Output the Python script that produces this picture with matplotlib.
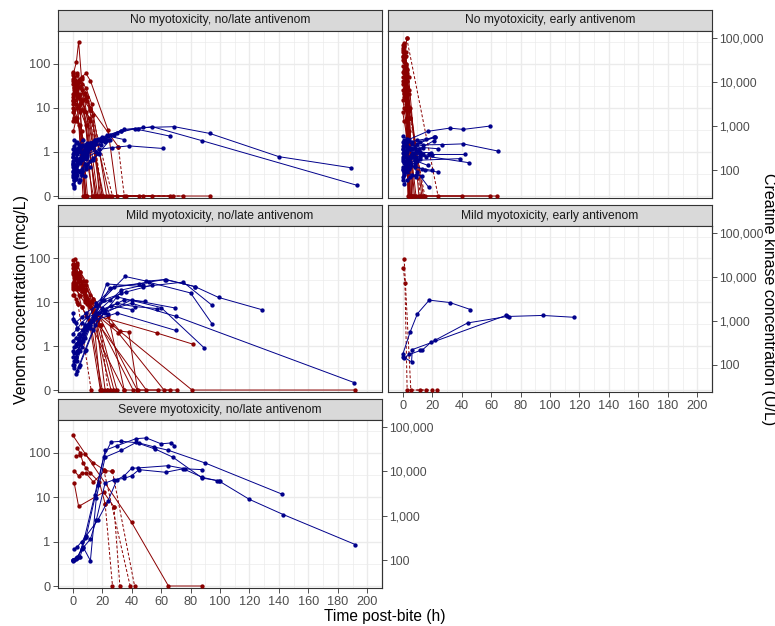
"""Venom and creatine kinase concentration over time, one panel per severity group"""

import matplotlib
matplotlib.use("Agg")
import matplotlib.pyplot as plt
from matplotlib.ticker import FixedLocator, NullFormatter

plt.rcParams['font.family'] = ['Liberation Sans', 'DejaVu Sans']

# CK (U/L) is drawn on the venom axis divided by this factor
CK_FACTOR = 263.0
# zero venom values sit at the bottom of the log axis
ZERO = 0.1

panel_titles = [
    "No myotoxicity, no/late antivenom",
    "No myotoxicity, early antivenom",
    "Mild myotoxicity, no/late antivenom",
    "Mild myotoxicity, early antivenom",
    "Severe myotoxicity, no/late antivenom",
]

x_ticks = [0, 20, 40, 60, 80, 100, 120, 140, 160, 180, 200]
venom_ticks = [ZERO, 1, 10, 100]
venom_labels = ["0", "1", "10", "100"]
ck_ticks = [100, 1000, 10000, 100000]
ck_labels = ["100", "1,000", "10,000", "100,000"]

# venom series: (hours, mcg/L, line style) - "tail" means the last drop is dashed
venom_none_late = [
    ([0.5, 2.5, 4, 6, 13], [60, 110, 316, 45, 0], "solid"),
    ([0, 3, 6, 9, 12, 24, 30], [66, 40, 50, 60, 41, 3.1, 0], "solid"),
    ([0, 1, 3, 5, 8], [45, 30, 20, 12, 0], "solid"),
    ([1, 2, 4, 7, 16], [25, 35, 18, 9, 0], "solid"),
    ([0, 2, 5, 10], [12, 20, 8, 0], "solid"),
    ([0.5, 3, 6, 11, 19], [35, 28, 15, 6, 0], "solid"),
    ([1, 4, 8, 14, 23], [50, 38, 22, 7, 0], "solid"),
    ([0, 1.5, 3, 9], [8, 15, 10, 0], "solid"),
    ([0, 2, 6, 12, 20, 36, 53.7], [20, 24, 14, 5, 0, 0, 0], "solid"),
    ([1, 3, 5, 8, 17], [40, 55, 30, 16, 0], "solid"),
    ([0, 4, 7, 10, 15], [15, 11, 9, 4, 0], "solid"),
    ([2, 5, 9, 13, 18, 45, 66], [30, 45, 28, 12, 0, 0, 0], "solid"),
    ([0, 1, 3, 6, 14], [5, 9, 6, 3, 0], "solid"),
    ([0.5, 2, 5, 9, 21, 48], [18, 22, 16, 8, 0, 0], "solid"),
    ([1, 3, 6, 10, 25, 68], [28, 32, 25, 14, 0, 0], "solid"),
    ([0, 2, 4, 6, 9], [10, 6, 4, 2, 0], "solid"),
    ([1, 4, 8, 12, 31, 35, 75], [22, 30, 20, 10, 1.3, 0, 0], "tail"),
    ([0, 3, 6, 10, 27], [55, 60, 35, 18, 0], "tail"),
    ([0.5, 2, 5, 8, 93], [3, 5, 4, 0, 0], "solid"),
    ([0, 2, 3, 7], [14, 25, 18, 0], "solid"),
    ([1, 2, 5, 9, 16], [6, 12, 9, 4, 0], "solid"),
    ([0, 3, 5, 12, 20], [40, 25, 20, 9, 0], "tail"),
]

venom_none_early = [
    ([1, 2.7, 24], [60, 380, 0], "tail"),
    ([0, 1, 2, 3, 5], [200, 250, 90, 30, 0], "solid"),
    ([0.5, 1.5, 2.5, 4], [150, 80, 40, 0], "solid"),
    ([0, 1, 2, 3.5], [90, 60, 25, 0], "solid"),
    ([1, 2, 3, 4, 6], [300, 180, 70, 20, 0], "solid"),
    ([0, 1.5, 3, 5], [40, 30, 12, 0], "solid"),
    ([0.5, 2, 3, 4.5], [120, 100, 55, 0], "solid"),
    ([0, 1, 2.5, 4, 8], [25, 18, 9, 3, 0], "solid"),
    ([1, 2, 3, 5, 15], [70, 45, 20, 6, 0], "tail"),
    ([0, 1, 2, 4], [15, 10, 5, 0], "solid"),
    ([0.5, 1.5, 3, 6, 40], [180, 140, 60, 0, 0], "solid"),
    ([0, 2, 3, 5, 59], [50, 35, 15, 0, 0], "solid"),
    ([1, 2, 4, 7, 64], [110, 60, 25, 0, 0], "solid"),
    ([0, 1, 3, 5], [8, 5, 2, 0], "solid"),
    ([0.5, 2, 3, 12], [260, 150, 40, 0], "tail"),
    ([0, 1, 2, 3, 9], [35, 22, 15, 6, 0], "solid"),
    ([1, 2, 3, 4], [20, 12, 6, 0], "solid"),
    ([0, 1, 2, 3, 4, 11], [140, 120, 100, 75, 50, 0], "solid"),
    ([0.5, 1.5, 2.5, 5, 13], [65, 55, 30, 10, 0], "solid"),
    ([0, 1, 2, 3, 14], [230, 160, 80, 30, 0], "solid"),
]

venom_mild_late = [
    ([1.4, 3, 5, 9, 14, 22], [98, 80, 50, 30, 12, 0], "solid"),
    ([0, 2, 4, 7, 12, 26], [60, 70, 45, 25, 8, 0], "solid"),
    ([0, 1, 3, 6, 10, 20], [45, 50, 40, 20, 9, 0], "solid"),
    ([1, 2, 5, 8, 13, 19], [30, 35, 25, 18, 10, 0], "solid"),
    ([0, 2, 4, 8, 15, 28], [22, 25, 20, 12, 5, 0], "solid"),
    ([1, 3, 5, 9, 14, 24, 35], [40, 45, 30, 20, 12, 5, 0], "solid"),
    ([0, 2, 4, 7, 12, 32, 38, 44], [70, 65, 40, 30, 15, 2.2, 2.1, 0], "solid"),
    ([0, 1, 3, 6, 10, 16, 57, 82], [20, 25, 22, 18, 10, 5, 2, 1.1], "solid"),
    ([1, 3, 5, 8, 12, 18, 50], [55, 45, 35, 20, 10, 3, 0], "solid"),
    ([0, 1, 3.6, 12.5], [25, 15, 9, 0], "tail"),
    ([0, 2, 5, 10, 19, 23.8], [50, 40, 22, 12, 3, 0], "tail"),
    ([1, 2, 4, 6, 11, 18.8], [35, 28, 15, 8, 4, 0], "solid"),
    ([0, 3, 5, 9, 13, 43.8, 58], [90, 70, 50, 25, 10, 0, 0], "solid"),
    ([1, 2, 4, 8, 14, 31, 62, 66], [65, 50, 30, 15, 6, 2, 0, 0], "solid"),
    ([0, 2, 3, 6, 9, 34.7, 70.8], [15, 12, 10, 8, 5, 0, 0], "solid"),
    ([0, 1, 4, 7, 12, 27, 81, 192], [75, 60, 40, 20, 8, 3, 0, 0], "solid"),
    ([2, 4, 7, 10, 17, 30], [45, 35, 25, 12, 4, 0], "solid"),
    ([0, 2, 5, 8, 14, 41], [28, 20, 14, 10, 6, 0], "solid"),
]

venom_mild_early = [
    ([1, 5.5, 12, 16], [98, 0, 0, 0], "dashed"),
    ([0.5, 1.5, 3, 20, 23], [60, 27, 0, 0, 0], "dashed"),
]

venom_severe_late = [
    ([0, 40, 65, 88], [250, 2.7, 0, 0], "solid"),
    ([2, 5, 8, 14, 21, 39], [85, 90, 95, 60, 42, 0], "tail"),
    ([1, 4, 6, 9, 14, 22, 27, 42], [40, 30, 35, 35, 22, 40, 38, 0], "tail"),
    ([1, 4, 21, 28, 32], [21, 6.2, 13, 6.1, 0], "tail"),
    ([3, 5, 7, 9, 12, 18, 22, 27], [130, 100, 60, 45, 35, 22, 7.2, 0], "tail"),
]

# creatine kinase series: (hours, U/L)
ck_none_late = [
    ([0, 2, 5, 10, 16], [120, 90, 150, 200, 260]),
    ([0, 1, 4, 8, 13, 22], [200, 250, 180, 300, 400, 520]),
    ([1, 3, 6, 12, 18, 28], [60, 80, 110, 160, 250, 650]),
    ([0, 2, 4, 7], [300, 420, 380, 500]),
    ([0, 3, 7, 11, 20, 33], [90, 150, 250, 330, 540, 800]),
    ([1, 2, 5, 9], [45, 70, 60, 110]),
    ([0, 2, 6, 10, 14, 24], [160, 130, 200, 260, 330, 480]),
    ([0, 1, 3, 5, 8, 12], [80, 60, 100, 90, 140, 120]),
    ([2, 4, 8, 15, 22], [250, 300, 350, 420, 430]),
    ([0, 1, 2, 4, 6], [50, 40, 65, 55, 90]),
    ([1, 3, 5, 7, 12, 19], [350, 280, 300, 260, 350, 380]),
    ([0, 2, 3, 6, 9], [140, 170, 230, 200, 180]),
    ([0, 4, 9, 14], [70, 95, 120, 170]),
    ([1, 3, 6, 10, 15, 20], [500, 450, 380, 420, 480, 560]),
    ([0, 2, 5, 8, 11], [230, 190, 160, 210, 300]),
    ([0, 1, 3, 6, 10, 14, 18], [95, 110, 130, 170, 140, 190, 230]),
    ([2, 5, 9, 13, 19, 25], [180, 260, 300, 380, 470, 480]),
    ([0, 3, 6, 8], [130, 100, 80, 75]),
    ([1, 2, 4, 8, 12, 17, 23], [260, 300, 340, 300, 390, 520, 620]),
    ([2, 8, 15, 25, 35, 48, 69, 93, 140, 189], [120, 250, 400, 650, 850, 940, 980, 690, 205, 115]),
    ([1, 6, 14, 22, 33, 44, 54, 88, 193], [90, 180, 330, 500, 800, 880, 980, 470, 46]),
    ([0, 4, 10, 18, 27, 38, 61], [150, 180, 240, 300, 330, 360, 315]),
    ([1, 5, 12, 20, 30, 42, 66], [300, 350, 420, 500, 700, 880, 600]),
    ([0, 3, 8, 15, 24, 35], [200, 260, 350, 480, 600, 500]),
]

ck_none_early = [
    ([1, 4, 17, 32, 41, 59], [400, 500, 770, 910, 850, 1010]),
    ([0, 3, 8, 14, 27, 41, 64.6], [300, 350, 330, 380, 385, 400, 275]),
    ([0, 2, 5, 12, 21], [200, 250, 300, 450, 570]),
    ([1, 3, 6, 10, 22], [150, 180, 240, 400, 570]),
    ([0, 2, 4, 9, 18, 42], [100, 130, 160, 200, 230, 230]),
    ([0, 3, 7, 12, 44.8], [350, 300, 250, 220, 150]),
    ([1, 2, 5, 10, 38.8], [80, 120, 150, 170, 185]),
    ([0, 1, 4, 8, 15, 24], [60, 90, 110, 130, 100, 92]),
    ([0, 2, 5, 10, 17.5], [250, 200, 150, 90, 42]),
    ([1, 3, 6, 11, 16], [500, 450, 400, 300, 200]),
    ([0, 2, 4, 8, 13, 20], [180, 160, 140, 120, 110, 100]),
    ([0, 1, 3, 6, 9], [120, 100, 90, 80, 70]),
    ([1, 2, 4, 7, 12, 19], [90, 110, 150, 200, 260, 250]),
    ([0, 2, 5, 9, 14], [450, 380, 320, 280, 230]),
    ([0, 1, 3, 5, 8, 12], [70, 85, 100, 120, 150, 180]),
    ([1, 3, 6, 14, 24], [220, 260, 300, 330, 310]),
    ([0, 2, 4, 7, 11], [160, 140, 180, 210, 260]),
    ([0, 1, 2, 5, 10, 17], [300, 280, 250, 200, 160, 130]),
    ([2, 4, 8, 12, 20], [130, 150, 170, 200, 220]),
    ([0, 3, 6, 10, 16, 22], [600, 520, 450, 480, 520, 560]),
    ([1, 3, 5, 9, 13], [50, 60, 70, 80, 75]),
    ([0, 2, 6, 11, 21], [110, 140, 210, 300, 470]),
]

ck_mild_late = [
    ([0, 2, 5, 10, 20, 35.6, 50, 63.5, 83, 99, 128.6], [100, 150, 300, 800, 3000, 10200, 8000, 8700, 6000, 3400, 1780]),
    ([1, 3, 6, 12, 23, 48, 75, 94.6], [85, 120, 250, 700, 6900, 6000, 7600, 2250]),
    ([0, 3, 7, 14, 25, 52, 80, 94.6], [150, 200, 400, 1200, 5600, 7500, 4300, 850]),
    ([2, 4, 8, 15, 30, 60, 89.3], [60, 90, 200, 800, 3500, 2000, 240]),
    ([1, 3, 6, 10, 18, 40, 70, 191], [120, 180, 330, 700, 1500, 2500, 1260, 39]),
    ([0, 2, 4, 8, 16, 28, 45, 62.6, 82.9], [200, 260, 400, 800, 2500, 6000, 7000, 8700, 6000]),
    ([3, 5, 9, 14, 22, 35, 49], [70, 100, 220, 600, 1800, 3000, 2750]),
    ([0, 1, 3, 7, 12, 22, 40, 69.6], [1500, 1000, 700, 600, 800, 1500, 3000, 1950]),
    ([2, 4, 7, 11, 20, 33, 48], [300, 350, 500, 900, 2000, 5000, 6500]),
    ([1, 3, 5, 9, 15, 26, 40], [250, 300, 450, 650, 1200, 2200, 1800]),
    ([0, 2, 4, 8, 14, 30, 70], [350, 400, 500, 700, 1000, 1500, 600]),
    ([0, 3, 6, 10, 17, 24], [500, 650, 900, 1200, 1500, 1400]),
    ([1, 2, 5, 8, 13, 21, 36, 54], [100, 140, 200, 400, 1000, 3000, 4500, 6500]),
    ([0, 2, 6, 9, 16, 25, 33], [1100, 900, 1200, 1500, 2200, 3000, 4200]),
    ([1, 4, 7, 12, 20, 30, 42, 57], [180, 220, 350, 800, 1800, 2500, 2100, 1900]),
]

ck_mild_early = [
    ([0, 5, 10, 18, 32, 46], [170, 550, 1450, 2950, 2600, 1800]),
    ([1, 4.5, 12, 13, 19.5, 22, 44, 71, 95, 116], [140, 170, 210, 210, 330, 360, 890, 1250, 1320, 1200]),
    ([0.5, 6, 6.5, 70, 72], [150, 115, 220, 1320, 1200]),
]

ck_severe_late = [
    ([0, 2, 4, 8, 15, 21, 26, 33, 45, 55, 65, 90, 142], [100, 105, 120, 320, 3000, 21000, 46000, 48000, 44000, 36000, 30000, 15500, 3100]),
    ([0, 1, 3, 6, 9, 17, 22, 30, 43, 50, 60, 67, 69], [95, 100, 110, 180, 330, 5000, 30000, 38000, 55000, 57000, 42000, 44000, 38000]),
    ([0, 2, 5, 7, 12, 16, 22, 33, 43, 56, 68, 88, 99, 120, 143, 192], [100, 110, 120, 200, 98, 2500, 21000, 30000, 45000, 32000, 21000, 7100, 6200, 2350, 1070, 225]),
    ([1, 3, 6, 9, 17, 24, 30, 35, 40, 44, 65, 76, 88], [180, 200, 260, 350, 800, 2200, 6500, 8000, 11800, 12000, 13500, 11500, 11000]),
    ([0, 3, 7, 12, 16, 22, 28, 35, 40, 45, 63, 75, 88, 98, 100], [100, 120, 190, 300, 800, 5500, 6500, 7000, 8000, 11000, 9600, 11500, 7400, 6200, 6000]),
]

venom_data = [venom_none_late, venom_none_early, venom_mild_late, venom_mild_early, venom_severe_late]
ck_data = [ck_none_late, ck_none_early, ck_mild_late, ck_mild_early, ck_severe_late]

RED = "#8B0000"
BLUE = "#00008B"
TICK_GREY = "#4D4D4D"
FRAME = "#333333"
LW = 0.7
MS = 2.1

W, H = 775, 626
fig = plt.figure(figsize=(W / 100, H / 100), dpi=100)

# panel boxes in pixels: (left, right) and (strip top, plot top, plot bottom)
cols = [(58, 382), (388, 712)]
rows = [(10, 31, 198), (205, 226, 392), (399, 420, 588)]
slots = [(0, 0), (0, 1), (1, 0), (1, 1), (2, 0)]


def px_axes(x0, x1, y0, y1):
    return fig.add_axes([x0 / W, 1 - y1 / H, (x1 - x0) / W, (y1 - y0) / H])


def nz(vals):
    return [v if v > 0 else ZERO for v in vals]


for i, (r, c) in enumerate(slots):
    x0, x1 = cols[c]
    ys, yp, yb = rows[r]

    strip = px_axes(x0, x1, ys, yp)
    strip.set_facecolor("#D9D9D9")
    strip.set_xticks([])
    strip.set_yticks([])
    for s in strip.spines.values():
        s.set_color(FRAME)
        s.set_linewidth(0.8)
    strip.text(0.5, 0.5, panel_titles[i], ha="center", va="center",
               fontsize=8.7, color="#1A1A1A", transform=strip.transAxes)

    ax = px_axes(x0, x1, yp, yb)
    ax.set_yscale("log")
    ax.set_xlim(-10, 210)
    ax.set_ylim(10 ** -1.045, 10 ** 2.74)

    ax.xaxis.set_major_locator(FixedLocator(x_ticks))
    ax.xaxis.set_minor_locator(FixedLocator([10 + 20 * k for k in range(10)]))
    ax.yaxis.set_major_locator(FixedLocator(venom_ticks))
    ax.yaxis.set_minor_locator(FixedLocator([10 ** -0.5, 10 ** 0.5, 10 ** 1.5, 10 ** 2.5]))
    ax.yaxis.set_minor_formatter(NullFormatter())
    ax.grid(which="major", color="#EBEBEB", lw=1.0)
    ax.grid(which="minor", color="#EBEBEB", lw=0.5)
    ax.set_axisbelow(True)
    for s in ax.spines.values():
        s.set_color(FRAME)
        s.set_linewidth(0.8)
    ax.tick_params(which="minor", length=0)
    ax.tick_params(which="major", length=3.5, width=0.6, color=FRAME,
                   labelsize=9.2, labelcolor=TICK_GREY, pad=2)

    if c == 0:
        ax.set_yticklabels(venom_labels)
    else:
        ax.tick_params(axis="y", left=False, labelleft=False)
    if r == 2 or (r == 1 and c == 1):
        ax.set_xticklabels([str(t) for t in x_ticks])
    else:
        ax.tick_params(axis="x", bottom=False, labelbottom=False)

    if c == 1 or r == 2:
        sec = ax.secondary_yaxis("right", functions=(lambda y: y * CK_FACTOR,
                                                     lambda y: y / CK_FACTOR))
        sec.yaxis.set_major_locator(FixedLocator(ck_ticks))
        sec.yaxis.set_minor_locator(FixedLocator([]))
        sec.set_yticklabels(ck_labels)
        sec.tick_params(length=3.5, width=0.6, color=FRAME, labelsize=8.8,
                        labelcolor=TICK_GREY, pad=1.5)
        sec.spines["right"].set_color(FRAME)
        sec.spines["right"].set_linewidth(0.8)

    # venom lines (red)
    for t, v, style in venom_data[i]:
        y = nz(v)
        if style == "solid":
            ax.plot(t, y, color=RED, lw=LW, marker="o", ms=MS, clip_on=False, zorder=3)
        elif style == "dashed":
            ax.plot(t, y, color=RED, lw=LW, ls=(0, (3, 2)), marker="o", ms=MS,
                    clip_on=False, zorder=3)
        else:
            k = [j for j, val in enumerate(v) if val <= 0][0]
            ax.plot(t[:k], y[:k], color=RED, lw=LW, marker="o", ms=MS, zorder=3)
            ax.plot(t[k - 1:], y[k - 1:], color=RED, lw=LW, ls=(0, (3, 2)),
                    marker="o", ms=MS, clip_on=False, zorder=3)

    # creatine kinase lines (blue)
    for t, ck in ck_data[i]:
        ax.plot(t, [q / CK_FACTOR for q in ck], color=BLUE, lw=LW, marker="o",
                ms=MS, zorder=4)

fig.text(22 / W, 1 - 299 / H, "Venom concentration (mcg/L)", rotation=90,
         ha="center", va="center", fontsize=11.5)
fig.text(768.5 / W, 1 - 299 / H, "Creatine kinase concentration (U/L)", rotation=-90,
         ha="center", va="center", fontsize=11.5)
fig.text(385 / W, 1 - 616 / H, "Time post-bite (h)", ha="center", va="center",
         fontsize=11.2)

fig.savefig("out.png", dpi=100)
plt.close()
